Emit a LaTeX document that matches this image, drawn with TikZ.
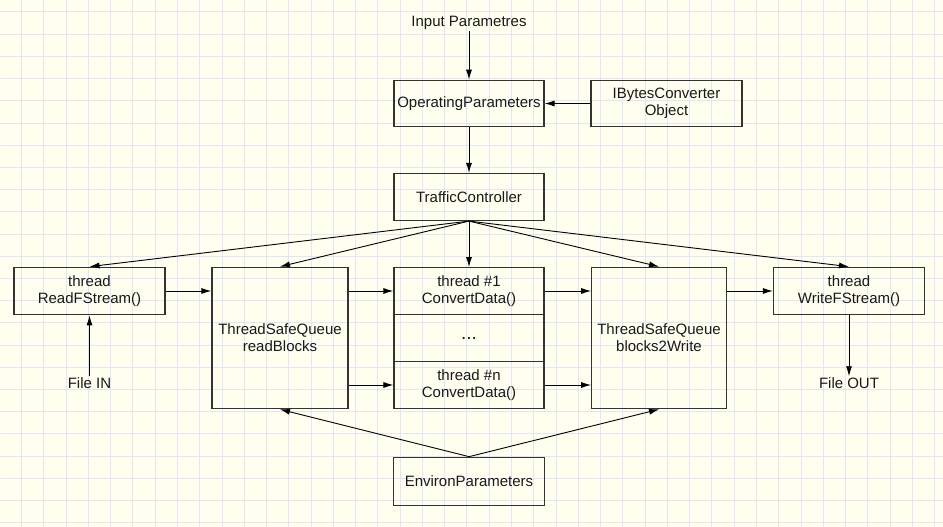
\documentclass[tikz,border=0pt]{standalone}
\usepackage{fontspec}
\setmainfont{Liberation Sans}
\usetikzlibrary{arrows.meta}
\definecolor{bgc}{HTML}{FFFFF0}
\definecolor{gridc}{HTML}{E4E4F4}
\definecolor{boxc}{HTML}{333333}
\begin{document}
\begin{tikzpicture}[x=1pt,y=-1pt,
  every node/.style={font=\fontsize{15}{17}\selectfont, text=black!90},
  blk/.style={draw=boxc, line width=1.2pt, rectangle, inner sep=0pt, align=center},
  lbl/.style={inner sep=1pt, align=center},
  arr/.style={line width=0.9pt, -{Latex[length=10pt,width=6pt]}}]
\useasboundingbox (0,0) rectangle (943,527);
\fill[bgc] (0,0) rectangle (943,527);
\foreach \i in {1,...,42} {\draw[gridc, line width=1pt] ({-0.7+22.27*\i},0) -- ({-0.7+22.27*\i},527);}
\foreach \j in {0,...,23} {\draw[gridc, line width=1pt] (0,{12+22.2*\j}) -- (943,{12+22.2*\j});}

\node[lbl] (inp) at (469,23) {Input Parametres};
\node[blk, minimum width=150pt, minimum height=46.5pt] (op) at (469,103.5) {OperatingParameters};
\node[blk, minimum width=151pt, minimum height=46.5pt] (ib) at (666.5,103.5) {IBytesConverter\\Object};
\node[blk, minimum width=150pt, minimum height=47pt] (tc) at (469,197) {TrafficController};

\node[blk, minimum width=151pt, minimum height=47.5pt] (rf) at (89.5,291) {thread\\ReadFStream()};
\node[blk, minimum width=136pt, minimum height=141.5pt] (rb) at (280,338) {ThreadSafeQueue\\readBlocks};
\node[blk, minimum width=150pt, minimum height=46.6pt] (c1) at (469,291) {thread \#1\\ConvertData()};
\node[blk, minimum width=150pt, minimum height=47.4pt, font=\fontsize{19}{20}\selectfont] (cd) at (469,338) {...};
\node[blk, minimum width=150pt, minimum height=46.6pt] (cn) at (469,385) {thread \#n\\ConvertData()};
\node[blk, minimum width=134.5pt, minimum height=141.5pt] (bw) at (659,338) {ThreadSafeQueue\\blocks2Write};
\node[blk, minimum width=151pt, minimum height=47.5pt] (wf) at (849,291) {thread\\WriteFStream()};

\node[lbl] (fin) at (89.5,383) {File IN};
\node[lbl] (fout) at (849,383) {File OUT};
\node[blk, minimum width=150.5pt, minimum height=48.5pt] (ep) at (469,481.5) {EnvironParameters};

\draw[arr] (inp) -- (op);
\draw[arr] (ib) -- (op);
\draw[arr] (op) -- (tc);
\draw[arr] (tc.south) -- (rf.north);
\draw[arr] (tc.south) -- (rb.north);
\draw[arr] (tc.south) -- (c1.north);
\draw[arr] (tc.south) -- (bw.north);
\draw[arr] (tc.south) -- (wf.north);
\draw[arr] (rf.east) -- (rb.west |- rf);
\draw[arr] (rb.east |- c1) -- (c1.west);
\draw[arr] (rb.east |- cn) -- (cn.west);
\draw[arr] (c1.east) -- (bw.west |- c1);
\draw[arr] (cn.east) -- (bw.west |- cn);
\draw[arr] (bw.east |- wf) -- (wf.west);
\draw[arr] (fin) -- (rf);
\draw[arr] (wf) -- (fout);
\draw[arr] (ep.north) -- (rb.south);
\draw[arr] (ep.north) -- (bw.south);
\end{tikzpicture}
\end{document}
